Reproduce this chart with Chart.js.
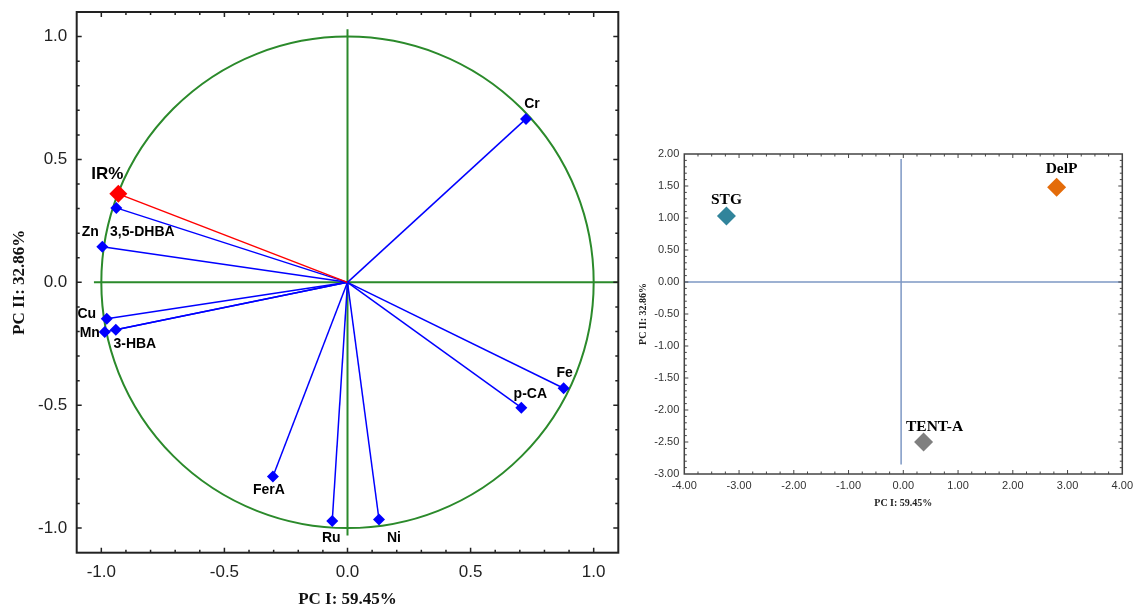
<!DOCTYPE html>
<html>
<head>
<meta charset="utf-8">
<title>PCA loadings and scores</title>
<script src="https://cdn.jsdelivr.net/npm/chart.js@4.4.1/dist/chart.umd.min.js"></script>
<style>
  body { margin: 0; background: #fff; width: 1133px; height: 609px; overflow: hidden; position: relative; }
  #loadingChart { position: absolute; left: 0; top: 0; }
  #scoreChart { position: absolute; left: 620px; top: 0; }
</style>
</head>
<body>
<canvas id="loadingChart" width="630" height="609"></canvas>
<canvas id="scoreChart" width="513" height="609"></canvas>
<script>
// loadings (PC I / PC II)
let loadNames = ["Cr", "IR%", "3,5-DHBA", "Zn", "Cu", "Mn", "3-HBA", "FerA", "Ru", "Ni", "Fe", "p-CA"];
let loadPC1 = [0.725, -0.931, -0.939, -0.996, -0.978, -0.986, -0.941, -0.303, -0.062, 0.128, 0.878, 0.706];
let loadPC2 = [0.665, 0.360, 0.303, 0.145, -0.148, -0.202, -0.193, -0.790, -0.971, -0.965, -0.431, -0.510];
let loadTicks = [-1.0, -0.5, 0.0, 0.5, 1.0];

// sample scores
let scoreNames = ["STG", "DelP", "TENT-A"];
let scorePC1 = [-3.23, 2.80, 0.37];
let scorePC2 = [1.03, 1.48, -2.50];
let scoreColors = ["#31849b", "#e46c0a", "#7f7f7f"];
let scoreXTicks = [-4, -3, -2, -1, 0, 1, 2, 3, 4];
let scoreYTicks = [-3, -2.5, -2, -1.5, -1, -0.5, 0, 0.5, 1, 1.5, 2];

let xTitle = "PC I: 59.45%";
let yTitle = "PC II: 32.86%";

// label offsets in px from each marker
let loadLabelOff = [[6, -15], [-11, -20], [26, 24], [-12, -15], [-20, -5], [-15, 1], [19, 14], [-4, 14], [-1, 17], [15, 19], [1, -15], [9, -14]];
let scoreLabelOff = [[0, -16], [5, -18], [11, -15]];

let sansFont = "'Liberation Sans', Arial, sans-serif";
let serifFont = "'Liberation Serif', 'Times New Roman', serif";

function fixedTicks(list) {
    return function (scale) {
        scale.ticks = list.map(v => ({ value: v }));
    };
}

// pin the axis box size and drop the label overhang padding
function fixWidth(w) {
    return function (s) { s.width = w; s.paddingTop = 0; s.paddingBottom = 0; };
}
function fixHeight(h) {
    return function (s) { s.height = h; s.paddingLeft = 0; s.paddingRight = 0; };
}

// inward tick marks on all four sides plus the frame
function drawFrame(chart, cfg) {
    let ctx = chart.ctx, a = chart.chartArea;
    let xs = chart.scales.x, ys = chart.scales.y;
    ctx.save();
    ctx.strokeStyle = cfg.color;
    ctx.lineWidth = cfg.width;
    ctx.strokeRect(a.left, a.top, a.right - a.left, a.bottom - a.top);
    ctx.lineWidth = cfg.tickWidth;
    ctx.beginPath();
    for (let k = Math.ceil(xs.min / cfg.xStep - 1e-6); k <= Math.floor(xs.max / cfg.xStep + 1e-6); k++) {
        let v = k * cfg.xStep;
        let px = xs.getPixelForValue(v);
        if (px <= a.left + 1 || px >= a.right - 1) continue;
        let len = Math.abs(v / cfg.xMajor - Math.round(v / cfg.xMajor)) < 1e-6 ? cfg.major : cfg.minor;
        ctx.moveTo(px, a.bottom); ctx.lineTo(px, a.bottom - len);
        ctx.moveTo(px, a.top); ctx.lineTo(px, a.top + len);
    }
    for (let k = Math.ceil(ys.min / cfg.yStep - 1e-6); k <= Math.floor(ys.max / cfg.yStep + 1e-6); k++) {
        let v = k * cfg.yStep;
        let py = ys.getPixelForValue(v);
        if (py <= a.top + 1 || py >= a.bottom - 1) continue;
        let len = Math.abs(v / cfg.yMajor - Math.round(v / cfg.yMajor)) < 1e-6 ? cfg.major : cfg.minor;
        ctx.moveTo(a.left, py); ctx.lineTo(a.left + len, py);
        ctx.moveTo(a.right, py); ctx.lineTo(a.right - len, py);
    }
    ctx.stroke();
    ctx.restore();
}

function drawLabels(chart, names, xs, ys, offs, fontFn) {
    let ctx = chart.ctx;
    ctx.save();
    ctx.fillStyle = "#000";
    ctx.textAlign = "center";
    ctx.textBaseline = "middle";
    for (let i = 0; i < names.length; i++) {
        let px = chart.scales.x.getPixelForValue(xs[i]);
        let py = chart.scales.y.getPixelForValue(ys[i]);
        ctx.font = fontFn(i);
        ctx.fillText(names[i], px + offs[i][0], py + offs[i][1]);
    }
    ctx.restore();
}

let loadingPlugin = {
    id: "loadingDecor",
    beforeDatasetsDraw(chart) {
        let ctx = chart.ctx;
        let xs = chart.scales.x, ys = chart.scales.y;
        let cx = xs.getPixelForValue(0), cy = ys.getPixelForValue(0);
        ctx.save();
        ctx.strokeStyle = "#2b8a2b";
        ctx.lineWidth = 2;
        // unit circle
        ctx.beginPath();
        ctx.ellipse(cx, cy, xs.getPixelForValue(1) - cx, cy - ys.getPixelForValue(1), 0, 0, Math.PI * 2);
        ctx.stroke();
        // axes through origin
        ctx.beginPath();
        ctx.moveTo(xs.getPixelForValue(-1.03), cy);
        ctx.lineTo(xs.getPixelForValue(1.1), cy);
        ctx.moveTo(cx, ys.getPixelForValue(1.03));
        ctx.lineTo(cx, ys.getPixelForValue(-1.03));
        ctx.stroke();
        ctx.restore();
    },
    afterDatasetsDraw(chart) {
        drawLabels(chart, loadNames, loadPC1, loadPC2, loadLabelOff,
            i => loadNames[i] == "IR%" ? "bold 17px " + sansFont : "bold 14px " + sansFont);
        drawFrame(chart, { color: "#222", width: 2, tickWidth: 1.5, xStep: 0.1, yStep: 0.1, xMajor: 0.5, yMajor: 0.5, minor: 3, major: 5 });
    }
};

let scorePlugin = {
    id: "scoreDecor",
    beforeDatasetsDraw(chart) {
        let ctx = chart.ctx;
        let xs = chart.scales.x, ys = chart.scales.y;
        ctx.save();
        ctx.strokeStyle = "#7e98c4";
        ctx.lineWidth = 1.5;
        ctx.beginPath();
        ctx.moveTo(xs.getPixelForValue(-4), ys.getPixelForValue(0));
        ctx.lineTo(xs.getPixelForValue(4), ys.getPixelForValue(0));
        ctx.moveTo(xs.getPixelForValue(-0.04), ys.getPixelForValue(1.92));
        ctx.lineTo(xs.getPixelForValue(-0.04), ys.getPixelForValue(-2.85));
        ctx.stroke();
        ctx.restore();
    },
    afterDatasetsDraw(chart) {
        drawLabels(chart, scoreNames, scorePC1, scorePC2, scoreLabelOff, i => "bold 15.5px " + serifFont);
        drawFrame(chart, { color: "#444", width: 1.5, tickWidth: 1, xStep: 0.25, yStep: 0.1, xMajor: 1, yMajor: 0.5, minor: 2.5, major: 4 });
    }
};

let loadDatasets = [];
for (let i = 0; i < loadNames.length; i++) {
    let col = loadNames[i] == "IR%" ? "#ff0000" : "#0000ff";
    loadDatasets.push({
        data: [{ x: 0, y: 0 }, { x: loadPC1[i], y: loadPC2[i] }],
        showLine: true,
        borderColor: col,
        borderWidth: 1.5,
        pointStyle: "rectRot",
        pointRadius: [0, loadNames[i] == "IR%" ? 9 : 6],
        pointBackgroundColor: col,
        pointBorderColor: col,
        pointBorderWidth: 0,
    });
}

let loadChart = new Chart("loadingChart", {
    type: "scatter",
    data: { datasets: loadDatasets },
    plugins: [loadingPlugin],
    options: {
        responsive: false,
        animation: false,
        devicePixelRatio: 1,
        layout: { padding: { left: 0, top: 12, right: 11.7, bottom: 0 } },
        plugins: { legend: { display: false }, tooltip: { enabled: false } },
        scales: {
            x: {
                type: "linear", min: -1.1, max: 1.1,
                afterBuildTicks: fixedTicks(loadTicks),
                afterFit: fixHeight(56.3),
                grid: { display: false, drawTicks: false },
                border: { display: false },
                ticks: { callback: v => v.toFixed(1), color: "#222", padding: 9, maxRotation: 0, autoSkip: false, font: { family: sansFont, size: 17 } },
                title: { display: true, text: xTitle, color: "#111", padding: { top: 0, bottom: 0.5 }, font: { family: serifFont, size: 17, weight: "bold", lineHeight: 1 } }
            },
            y: {
                type: "linear", min: -1.1, max: 1.1,
                afterBuildTicks: fixedTicks(loadTicks),
                afterFit: fixWidth(76.7),
                grid: { display: false, drawTicks: false },
                border: { display: false },
                ticks: { callback: v => v.toFixed(1), color: "#222", padding: 9.4, autoSkip: false, font: { family: sansFont, size: 17 } },
                title: { display: true, text: yTitle, color: "#111", padding: { top: 11.5, bottom: 0 }, font: { family: serifFont, size: 17, weight: "bold", lineHeight: 1 } }
            }
        }
    }
});

let scoreChart = new Chart("scoreChart", {
    type: "scatter",
    data: {
        datasets: [{
            data: scorePC1.map((v, i) => ({ x: v, y: scorePC2[i] })),
            pointStyle: "rectRot",
            pointRadius: 9.5,
            pointBackgroundColor: scoreColors,
            pointBorderColor: scoreColors,
            pointBorderWidth: 0,
        }]
    },
    plugins: [scorePlugin],
    options: {
        responsive: false,
        animation: false,
        devicePixelRatio: 1,
        layout: { padding: { left: 0, top: 154, right: 10.7, bottom: 100 } },
        plugins: { legend: { display: false }, tooltip: { enabled: false } },
        scales: {
            x: {
                type: "linear", min: -4, max: 4,
                afterBuildTicks: fixedTicks(scoreXTicks),
                afterFit: fixHeight(35),
                grid: { display: false, drawTicks: false },
                border: { display: false },
                ticks: { callback: v => v.toFixed(2), color: "#333", padding: 5.4, maxRotation: 0, autoSkip: false, font: { family: sansFont, size: 11 } },
                title: { display: true, text: xTitle, color: "#222", padding: { top: 0, bottom: 1 }, font: { family: serifFont, size: 10, weight: "bold", lineHeight: 1 } }
            },
            y: {
                type: "linear", min: -3, max: 2,
                afterBuildTicks: fixedTicks(scoreYTicks),
                afterFit: fixWidth(64.3),
                grid: { display: false, drawTicks: false },
                border: { display: false },
                ticks: { callback: v => v.toFixed(2), color: "#333", padding: 5, autoSkip: false, font: { family: sansFont, size: 11 } },
                title: { display: true, text: yTitle, color: "#222", padding: { top: 18, bottom: 0 }, font: { family: serifFont, size: 10, weight: "bold", lineHeight: 1 } }
            }
        }
    }
});
</script>
</body>
</html>
